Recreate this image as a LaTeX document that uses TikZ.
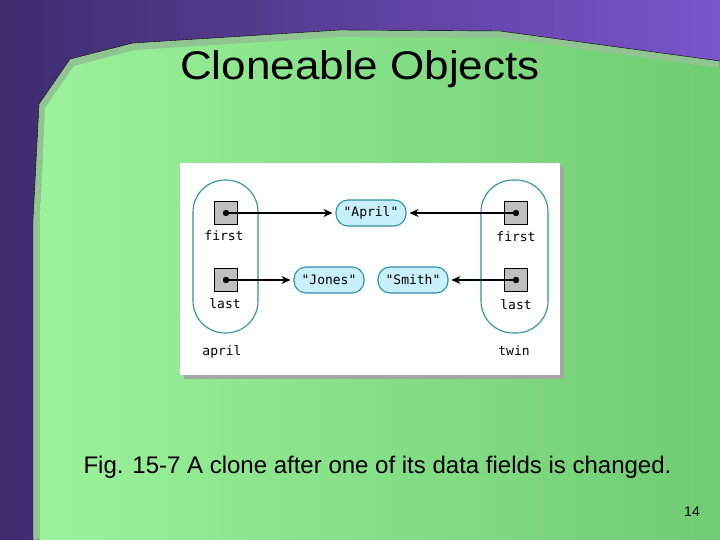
\documentclass[tikz,border=0pt]{standalone}
\usepackage{fontspec}
\setmainfont{Liberation Sans}
\setmonofont{DejaVu Sans Mono}
\usetikzlibrary{arrows.meta}
\definecolor{purpA}{HTML}{3E2C6E}
\definecolor{purpB}{HTML}{7A55CC}
\definecolor{grnA}{HTML}{9BF29B}
\definecolor{grnB}{HTML}{6FCC72}
\definecolor{teal}{HTML}{2E8FA8}
\definecolor{pill}{HTML}{C8F0FA}
\tikzset{
  oval/.style={draw=teal,line width=1.1pt,rounded corners=32pt},
  ptr/.style={draw=black,fill=black!25,minimum size=23pt,inner sep=0pt},
  str/.style={draw=teal,fill=pill,line width=1.1pt,rounded corners=12pt,minimum width=70pt,minimum height=26pt,font=\ttfamily\fontsize{13}{13}\selectfont},
  lbl/.style={font=\ttfamily\fontsize{13}{13}\selectfont},
  arr/.style={-{Stealth[length=9pt,width=8pt]},line width=1.3pt,shorten >=3pt},
}
\begin{document}
\begin{tikzpicture}[x=1pt,y=-1pt]
\useasboundingbox (0,0) rectangle (720,540);
\shade[left color=purpA,right color=purpB] (0,0) rectangle (720,540);
\path[fill=grnA!60!gray,draw=black,line width=0.4pt] (33,540) -- (33,220) -- (39,104) -- (70,59) -- (133,43) -- (340,30) -- (500,31) -- (720,61) -- (720,540) -- cycle;
\shade[left color=grnA,right color=grnB] (40,540) -- (40,220) -- (45,108) -- (74,66) -- (135,50) -- (340,37) -- (500,38) -- (720,68) -- (720,540) -- cycle;
\node[font=\fontsize{40}{40}\selectfont] (title) at (360,69) {\scalebox{1.1}[1]{Cloneable Objects}};
\fill[black!35] (184,167) rectangle (564,379);
\fill[white] (180,163) rectangle (560,375);
\draw[oval] (193,180) rectangle (258,333);
\draw[oval] (481,180) rectangle (548,333);
\node[ptr] (a1) at (226,213) {};
\node[ptr] (a2) at (226,280) {};
\node[ptr] (b1) at (516,213) {};
\node[ptr] (b2) at (516,280) {};
\node[lbl] (la1) at (224,236) {first};
\node[lbl] (la2) at (225,304) {last};
\node[lbl] (lb1) at (516,237) {first};
\node[lbl] (lb2) at (516,305) {last};
\node[lbl] (la) at (222,352) {april};
\node[lbl] (lb) at (514,351) {twin};
\node[str] (april) at (371,213) {"April"};
\node[str] (jones) at (329,280) {"Jones"};
\node[str] (smith) at (413,280) {"Smith"};
\foreach \n in {a1,a2,b1,b2}{\fill (\n) circle (3.2pt);}
\draw[arr] (a1.center) -- (april.west);
\draw[arr] (b1.center) -- (april.east);
\draw[arr] (a2.center) -- (jones.west);
\draw[arr] (b2.center) -- (smith.east);
\node[font=\fontsize{24}{24}\selectfont,anchor=west] (cap) at (80,467) {Fig. 15-7 A clone after one of its data fields is changed.};
\node[font=\fontsize{14}{14}\selectfont] (pg) at (692,512) {14};
\end{tikzpicture}
\end{document}
